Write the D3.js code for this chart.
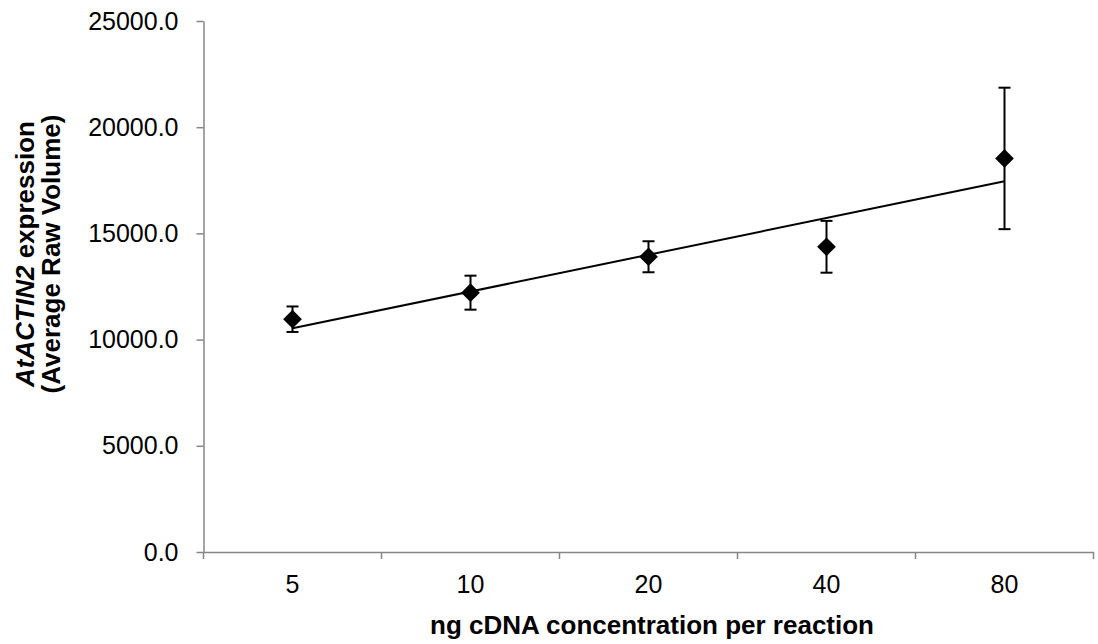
<!DOCTYPE html>
<html>
<head>
<meta charset="utf-8">
<script src="https://cdn.jsdelivr.net/npm/d3@7"></script>
<style>
  html, body { margin: 0; padding: 0; background: #fff; }
  svg { display: block; font-family: "Liberation Sans", Arial, sans-serif; }
</style>
</head>
<body>
<svg id="chart" width="1098" height="644"></svg>
<script>
// ---- data ----
const categories = ["5", "10", "20", "40", "80"];
const means = [10960, 12210, 13900, 14370, 18530];
const errors = [600, 800, 730, 1220, 3330];
const yTicks = [0, 5000, 10000, 15000, 20000, 25000];

(function () {
const svg = d3.select("#chart");
const pLeft = 203.5, pRight = 1093.5, pTop = 21, pBottom = 552;

const x = d3.scaleBand().domain(categories).range([pLeft, pRight]).padding(0);
const y = d3.scaleLinear().domain([0, 25000]).range([pBottom, pTop]);
const axisColor = "#868686";

// y axis
const yAxis = d3.axisLeft(y).tickValues(yTicks).tickSize(7).tickSizeOuter(0)
  .tickFormat(d => d3.format(".1f")(d));
const gy = svg.append("g").attr("transform", `translate(${pLeft},0)`).call(yAxis);
gy.select(".domain").attr("stroke", axisColor).attr("stroke-width", 1.5);
gy.selectAll(".tick line").attr("stroke", axisColor).attr("stroke-width", 1.5);
gy.selectAll(".tick text").attr("font-size", 25).attr("fill", "#000")
  .attr("x", -25).attr("font-family", "Liberation Sans, Arial, sans-serif");

// x axis
const xAxis = d3.axisBottom(x).tickSize(0).tickSizeOuter(0);
const gx = svg.append("g").attr("transform", `translate(0,${pBottom})`).call(xAxis);
gx.select(".domain").attr("stroke", axisColor).attr("stroke-width", 1.5);
gx.selectAll(".tick text").attr("font-size", 25).attr("fill", "#000")
  .attr("y", 23).attr("dy", "0.71em").attr("font-family", "Liberation Sans, Arial, sans-serif");
// boundary ticks
const bounds = categories.map(c => x(c)).concat([x(categories[categories.length - 1]) + x.bandwidth()]);
gx.selectAll("line.bt").data(bounds).enter().append("line")
  .attr("class", "bt")
  .attr("x1", d => d).attr("x2", d => d)
  .attr("y1", 0).attr("y2", 7)
  .attr("stroke", axisColor).attr("stroke-width", 1.5);

const cx = c => x(c) + x.bandwidth() / 2;

// linear trendline (least squares over category index)
const n = means.length;
const idx = d3.range(1, n + 1);
const mx = d3.mean(idx), my = d3.mean(means);
const slope = d3.sum(idx.map((v, i) => (v - mx) * (means[i] - my))) / d3.sum(idx.map(v => (v - mx) ** 2));
const intercept = my - slope * mx;
svg.append("line")
  .attr("x1", cx(categories[0])).attr("y1", y(intercept + slope * 1))
  .attr("x2", cx(categories[n - 1])).attr("y2", y(intercept + slope * n))
  .attr("stroke", "#000").attr("stroke-width", 2);

// error bars
const eb = svg.append("g");
categories.forEach((c, i) => {
  const px = cx(c);
  const hi = y(means[i] + errors[i]), lo = y(means[i] - errors[i]);
  eb.append("line").attr("x1", px).attr("x2", px).attr("y1", hi).attr("y2", lo)
    .attr("stroke", "#000").attr("stroke-width", 2);
  [hi, lo].forEach(yy => eb.append("line")
    .attr("x1", px - 6).attr("x2", px + 6).attr("y1", yy).attr("y2", yy)
    .attr("stroke", "#000").attr("stroke-width", 2));
});

// markers
const sym = d3.symbol().type(d3.symbolSquare).size(175);
svg.append("g").selectAll("path").data(categories).enter().append("path")
  .attr("d", sym)
  .attr("transform", (c, i) => `translate(${cx(c)},${y(means[i])}) rotate(45)`)
  .attr("fill", "#000");

// x title
svg.append("text")
  .attr("x", 652).attr("y", 634)
  .attr("text-anchor", "middle")
  .attr("font-size", 26).attr("font-weight", "bold")
  .text("ng cDNA concentration per reaction");

// y title
const yt = svg.append("g").attr("transform", "translate(0,254) rotate(-90)");
const l1 = yt.append("text").attr("x", 0).attr("y", 34).attr("text-anchor", "middle")
  .attr("font-size", 26).attr("font-weight", "bold");
l1.append("tspan").attr("font-style", "italic").text("AtACTIN2");
l1.append("tspan").text(" expression");
yt.append("text").attr("x", 0).attr("y", 60).attr("text-anchor", "middle")
  .attr("font-size", 26).attr("font-weight", "bold")
  .text("(Average Raw Volume)");
})();
</script>
</body>
</html>
